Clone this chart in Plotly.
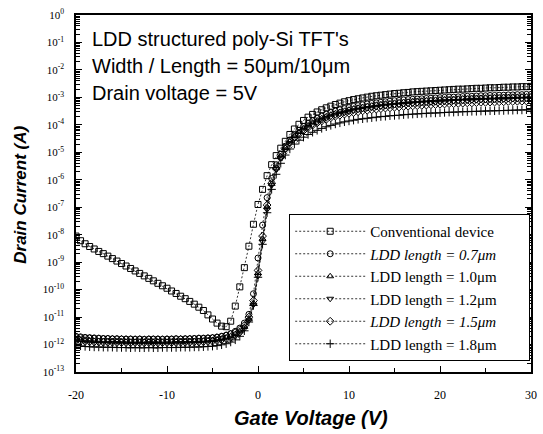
import plotly.graph_objects as go

# Gate voltage sweep (V)
vg = [-20 + 0.5 * i for i in range(101)]

# log10 of drain current (A)
log_id_conv = [
    -8.05, -8.22, -8.33, -8.43, -8.52, -8.61, -8.69, -8.78, -8.87, -8.96,
    -9.05, -9.14, -9.23, -9.32, -9.41, -9.50, -9.59, -9.68, -9.77, -9.86,
    -9.95, -10.05, -10.14, -10.24, -10.33, -10.43, -10.53, -10.64, -10.76, -10.92,
    -11.07, -11.22, -11.33, -11.35, -11.15, -10.60, -9.90, -9.20, -8.42, -7.62,
    -6.90, -6.35, -5.85, -5.45, -5.12, -4.85, -4.60, -4.35, -4.15, -3.98,
    -3.84, -3.72, -3.62, -3.53, -3.45, -3.38, -3.32, -3.26, -3.21, -3.16,
    -3.12, -3.08, -3.05, -3.02, -2.99, -2.96, -2.94, -2.92, -2.90, -2.88,
    -2.86, -2.85, -2.83, -2.82, -2.80, -2.79, -2.78, -2.77, -2.76, -2.75,
    -2.74, -2.73, -2.72, -2.71, -2.70, -2.70, -2.69, -2.68, -2.67, -2.67,
    -2.66, -2.65, -2.65, -2.64, -2.63, -2.63, -2.62, -2.62, -2.61, -2.61,
    -2.60,
]
log_id_07 = [
    -11.70, -11.72, -11.74, -11.75, -11.76, -11.77, -11.78, -11.78, -11.79, -11.79,
    -11.80, -11.80, -11.80, -11.81, -11.80, -11.81, -11.80, -11.80, -11.80, -11.81,
    -11.80, -11.80, -11.79, -11.80, -11.79, -11.79, -11.78, -11.77, -11.77, -11.76,
    -11.75, -11.73, -11.70, -11.66, -11.60, -11.52, -11.40, -11.22, -10.90, -10.15,
    -8.85, -7.65, -6.65, -5.95, -5.45, -5.07, -4.78, -4.55, -4.36, -4.20,
    -4.06, -3.95, -3.85, -3.76, -3.68, -3.61, -3.55, -3.50, -3.45, -3.41,
    -3.37, -3.33, -3.30, -3.27, -3.24, -3.22, -3.20, -3.18, -3.16, -3.14,
    -3.12, -3.11, -3.09, -3.08, -3.07, -3.06, -3.05, -3.04, -3.03, -3.02,
    -3.01, -3.00, -2.99, -2.99, -2.98, -2.97, -2.96, -2.96, -2.95, -2.94,
    -2.94, -2.93, -2.93, -2.92, -2.92, -2.91, -2.91, -2.90, -2.90, -2.89,
    -2.89,
]
log_id_10 = [
    -11.82, -11.84, -11.85, -11.86, -11.87, -11.87, -11.88, -11.88, -11.89, -11.89,
    -11.89, -11.90, -11.90, -11.90, -11.90, -11.90, -11.90, -11.91, -11.90, -11.90,
    -11.90, -11.90, -11.89, -11.89, -11.89, -11.88, -11.88, -11.87, -11.86, -11.85,
    -11.84, -11.82, -11.79, -11.75, -11.70, -11.62, -11.52, -11.36, -11.08, -10.50,
    -9.40, -8.15, -7.00, -6.15, -5.58, -5.15, -4.84, -4.60, -4.41, -4.26,
    -4.13, -4.02, -3.92, -3.84, -3.76, -3.69, -3.63, -3.58, -3.53, -3.49,
    -3.45, -3.41, -3.38, -3.35, -3.32, -3.30, -3.27, -3.25, -3.23, -3.22,
    -3.20, -3.18, -3.17, -3.16, -3.14, -3.13, -3.12, -3.11, -3.10, -3.09,
    -3.08, -3.07, -3.07, -3.06, -3.05, -3.04, -3.04, -3.03, -3.02, -3.02,
    -3.01, -3.01, -3.00, -3.00, -2.99, -2.99, -2.98, -2.98, -2.97, -2.97,
    -2.96,
]
log_id_12 = [
    -11.90, -11.92, -11.93, -11.94, -11.95, -11.95, -11.96, -11.96, -11.96, -11.97,
    -11.97, -11.97, -11.98, -11.97, -11.98, -11.98, -11.97, -11.98, -11.98, -11.97,
    -11.97, -11.97, -11.97, -11.96, -11.96, -11.96, -11.95, -11.95, -11.94, -11.93,
    -11.92, -11.90, -11.87, -11.83, -11.78, -11.70, -11.59, -11.42, -11.12, -10.55,
    -9.50, -8.25, -7.08, -6.20, -5.62, -5.20, -4.90, -4.66, -4.47, -4.32,
    -4.19, -4.08, -3.99, -3.91, -3.83, -3.76, -3.70, -3.65, -3.60, -3.56,
    -3.52, -3.48, -3.45, -3.42, -3.39, -3.37, -3.35, -3.33, -3.31, -3.29,
    -3.27, -3.26, -3.24, -3.23, -3.22, -3.21, -3.19, -3.18, -3.17, -3.16,
    -3.15, -3.15, -3.14, -3.13, -3.12, -3.12, -3.11, -3.10, -3.10, -3.09,
    -3.09, -3.08, -3.08, -3.07, -3.07, -3.06, -3.06, -3.05, -3.05, -3.04,
    -3.04,
]
log_id_15 = [
    -11.74, -11.76, -11.77, -11.78, -11.79, -11.79, -11.80, -11.80, -11.81, -11.81,
    -11.81, -11.82, -11.82, -11.82, -11.82, -11.83, -11.82, -11.82, -11.82, -11.82,
    -11.82, -11.82, -11.81, -11.81, -11.81, -11.80, -11.80, -11.79, -11.79, -11.78,
    -11.77, -11.75, -11.72, -11.68, -11.63, -11.56, -11.46, -11.30, -11.00, -10.40,
    -9.30, -8.05, -6.92, -6.12, -5.58, -5.18, -4.88, -4.65, -4.47, -4.33,
    -4.21, -4.10, -4.01, -3.93, -3.86, -3.80, -3.74, -3.69, -3.65, -3.61,
    -3.58, -3.55, -3.52, -3.49, -3.47, -3.45, -3.43, -3.41, -3.39, -3.38,
    -3.36, -3.35, -3.33, -3.32, -3.31, -3.30, -3.29, -3.28, -3.27, -3.26,
    -3.25, -3.24, -3.23, -3.23, -3.22, -3.21, -3.20, -3.20, -3.19, -3.18,
    -3.18, -3.17, -3.17, -3.16, -3.16, -3.15, -3.15, -3.14, -3.14, -3.13,
    -3.13,
]
log_id_18 = [
    -12.02, -12.05, -12.07, -12.08, -12.09, -12.09, -12.10, -12.10, -12.10, -12.11,
    -12.11, -12.11, -12.12, -12.11, -12.12, -12.12, -12.11, -12.12, -12.12, -12.11,
    -12.11, -12.11, -12.11, -12.10, -12.10, -12.10, -12.09, -12.09, -12.08, -12.07,
    -12.06, -12.04, -12.01, -11.97, -11.91, -11.83, -11.70, -11.50, -11.18, -10.58,
    -9.55, -8.35, -7.20, -6.35, -5.80, -5.40, -5.10, -4.88, -4.70, -4.56,
    -4.45, -4.35, -4.27, -4.20, -4.13, -4.07, -4.02, -3.97, -3.93, -3.89,
    -3.86, -3.83, -3.80, -3.78, -3.76, -3.74, -3.72, -3.70, -3.69, -3.67,
    -3.66, -3.65, -3.63, -3.62, -3.61, -3.60, -3.59, -3.58, -3.57, -3.57,
    -3.56, -3.55, -3.54, -3.54, -3.53, -3.52, -3.52, -3.51, -3.51, -3.50,
    -3.50, -3.49, -3.49, -3.48, -3.48, -3.47, -3.47, -3.46, -3.46, -3.45,
    -3.45,
]

series_names = [
    "Conventional device",
    "<i>LDD length = 0.7\u03bcm</i>",
    "LDD length = 1.0\u03bcm",
    "LDD length = 1.2\u03bcm",
    "<i>LDD length = 1.5\u03bcm</i>",
    "LDD length = 1.8\u03bcm",
]
series_logs = [log_id_conv, log_id_07, log_id_10, log_id_12, log_id_15, log_id_18]
series_symbols = ["square-open", "circle-open", "triangle-up-open",
                  "triangle-down-open", "diamond-open", "cross-thin-open"]

y_tick_exps = list(range(0, -14, -1))
legend_pad = "\u00a0" * 7

fig = go.Figure()
for name, logs, sym in zip(series_names, series_logs, series_symbols):
    fig.add_trace(go.Scatter(
        x=vg, y=[10 ** v for v in logs], name=name + legend_pad, mode="lines+markers",
        line=dict(color="black", width=0.8, dash="2px,2px"),
        marker=dict(symbol=sym, size=6, color="black",
                    line=dict(color="black", width=1)),
    ))

minor_vals = [k * 10.0 ** e for e in range(-13, 0) for k in range(2, 10)]

L, R, T, B = 76, 6, 15, 62
PW, PH = 543 - L - R, 434 - T - B

def px(xp):
    return (xp - L) / PW

def py(yp):
    return (434 - B - yp) / PH

fig.update_layout(
    width=543, height=434,
    margin=dict(l=L, r=R, t=T, b=B),
    paper_bgcolor="white", plot_bgcolor="white",
    showlegend=True,
    legend=dict(
        x=px(292), y=py(214), xanchor="left", yanchor="top",
        bordercolor="black", borderwidth=1, bgcolor="white",
        font=dict(family="Liberation Serif", size=15, color="black"),
        itemwidth=70,
    ),
    xaxis=dict(
        range=[-20, 30], tickvals=[-20, -10, 0, 10, 20, 30],
        ticktext=["-20", "-10", "0", "10", "20", "30"],
        ticks="inside", ticklen=6, tickwidth=1.2, tickcolor="black",
        showline=True, linecolor="black", linewidth=1.5, mirror=True,
        showgrid=False, zeroline=False,
        minor=dict(tickvals=[-15, -5, 5, 15, 25], ticks="inside", ticklen=4,
                   tickcolor="black", showgrid=False),
        tickfont=dict(family="Liberation Serif", size=12, color="black"),
        ticklabelstandoff=11,
    ),
    yaxis=dict(
        type="log", range=[-13, 0],
        tickvals=[10.0 ** e for e in y_tick_exps],
        ticktext=["10<sup>%d</sup>" % e for e in y_tick_exps],
        ticks="inside", ticklen=6, tickwidth=1.2, tickcolor="black",
        showline=True, linecolor="black", linewidth=1.5, mirror="allticks",
        showgrid=False, zeroline=False,
        minor=dict(tickvals=minor_vals, ticks="inside", ticklen=4,
                   tickcolor="black", showgrid=False),
        tickfont=dict(family="Liberation Serif", size=11, color="black"),
        ticklabelstandoff=8,
    ),
)

annot_font = dict(family="Liberation Sans", size=20, color="black")
for txt, yc in zip(["LDD structured poly-Si TFT's",
                    "Width / Length = 50\u03bcm/10\u03bcm",
                    "Drain voltage = 5V"], [39, 66, 93]):
    fig.add_annotation(xref="paper", yref="paper", x=px(90), y=py(yc),
                       xanchor="left", yanchor="middle", text=txt,
                       showarrow=False, font=annot_font)

fig.add_annotation(xref="paper", yref="paper", x=px(314), y=py(418),
                   xanchor="center", yanchor="middle", showarrow=False,
                   text="<b><i>Gate Voltage (V)</i></b>",
                   font=dict(family="Liberation Sans", size=20, color="black"))
fig.add_annotation(xref="paper", yref="paper", x=px(19), y=py(195),
                   xanchor="center", yanchor="middle", showarrow=False, textangle=-90,
                   text="<b><i>Drain Current (A)</i></b>",
                   font=dict(family="Liberation Sans", size=17, color="black"))

fig.write_html("out.html", config={"displayModeBar": False},
               post_script="document.body.style.margin='0';")
